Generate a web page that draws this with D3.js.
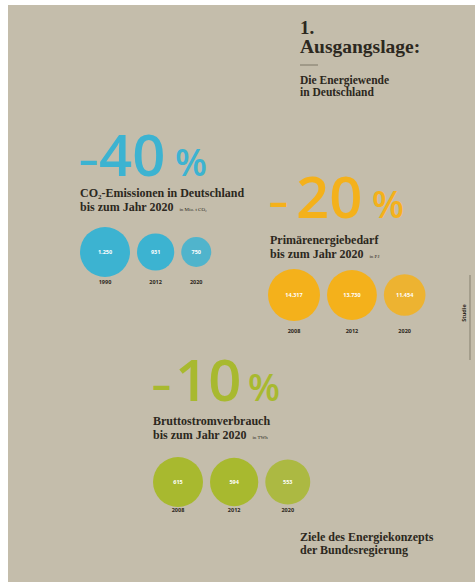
<!DOCTYPE html>
<html>
<head>
<meta charset="UTF-8">
<title>Ausgangslage - Energiewende</title>
<script src="https://d3js.org/d3.v7.min.js"></script>
<style>
    body { margin: 0; background: #ffffff; }
    svg { display: block; }
    .serif { font-family: "Liberation Serif", "DejaVu Serif", serif; font-weight: bold; fill: #2c2820; }
    .pct { font-family: "Open Sans", sans-serif; font-weight: 600; }
    .val { font-family: "Open Sans", sans-serif; font-weight: 700; fill: #ffffff; font-size: 5.5px; }
    .year { font-family: "Open Sans", sans-serif; font-weight: 700; fill: #2c2820; font-size: 5.5px; }
</style>
</head>
<body>
<div id="chart"></div>
<script>
    // Daten
    var co2Years = ["1990", "2012", "2020"];
    var co2Values = [1250, 931, 750];
    var pevYears = ["2008", "2012", "2020"];
    var pevValues = [14317, 13730, 11454];
    var stromYears = ["2008", "2012", "2020"];
    var stromValues = [615, 594, 553];
    var percents = ["40", "20", "10"];
    var titles1 = ["-Emissionen in Deutschland", "Primärenergiebedarf", "Bruttostromverbrauch"];
    var units = ["in Mio. t CO\u2082", "in PJ", "in TWh"];

    var width = 475, height = 582;
    var de = d3.formatLocale({ decimal: ",", thousands: ".", grouping: [3], currency: ["", " €"] });
    var fmt = de.format(",");

    var svg = d3.select("#chart").append("svg")
        .attr("width", width).attr("height", height);

    svg.append("rect")
        .attr("x", 8).attr("y", 5)
        .attr("width", width - 8).attr("height", height - 5)
        .attr("fill", "#c4bdab");

    // Kopf
    svg.append("text").attr("class", "serif").attr("x", 300).attr("y", 34)
        .style("font-size", "19px").text("1.");
    svg.append("text").attr("class", "serif").attr("x", 300).attr("y", 53)
        .style("font-size", "19.5px").text("Ausgangslage:");
    svg.append("line").attr("x1", 300).attr("x2", 318).attr("y1", 65).attr("y2", 65)
        .style("stroke", "#7d7766").style("stroke-width", 1);
    svg.append("text").attr("class", "serif").attr("x", 300).attr("y", 84)
        .style("font-size", "11.5px").text("Die Energiewende");
    svg.append("text").attr("class", "serif").attr("x", 300).attr("y", 96)
        .style("font-size", "11.5px").text("in Deutschland");

    // Fuss
    svg.append("text").attr("class", "serif").attr("x", 300).attr("y", 541)
        .style("font-size", "12px").text("Ziele des Energiekonzepts");
    svg.append("text").attr("class", "serif").attr("x", 300).attr("y", 554)
        .style("font-size", "12px").text("der Bundesregierung");

    // Seitenmarke
    svg.append("line").attr("x1", 470).attr("x2", 470).attr("y1", 275).attr("y2", 360)
        .style("stroke", "#8f8978").style("stroke-width", 1.2);
    svg.append("text").attr("class", "year")
        .attr("transform", "translate(466,313) rotate(-90)")
        .attr("text-anchor", "middle").text("Studie");

    var blocks = [
        { years: co2Years, values: co2Values, color: "#3cb3d1", x: 80, cy: 252, rMax: 25,
          pctY: 176, pctX: [80, 99, 175], tY: 197, yearY: 284 },
        { years: pevYears, values: pevValues, color: "#f4b11b", x: 268, cy: 295, rMax: 26,
          pctY: 218, pctX: [270, 296, 372], tY: 244, yearY: 333 },
        { years: stromYears, values: stromValues, color: "#a8b92f", x: 153, cy: 482, rMax: 25,
          pctY: 401, pctX: [153, 175, 248], tY: 425, yearY: 512 }
    ];

    blocks.forEach(function (b, i) {
        var g = svg.append("g");

        // grosse Prozentzahl
        var p = g.append("text").attr("class", "pct").attr("y", b.pctY).style("fill", b.color);
        p.append("tspan").attr("x", b.pctX[0] - 1).attr("dy", -3).style("font-size", "38px")
            .style("font-weight", 700).text("\u2013");
        p.append("tspan").attr("x", b.pctX[1]).attr("dy", 3).style("font-size", "58px").text(percents[i]);
        p.append("tspan").attr("x", b.pctX[2]).style("font-size", "37px").text("%");

        // Titel
        var t1 = g.append("text").attr("class", "serif").attr("x", b.pctX[0]).attr("y", b.tY)
            .style("font-size", "12px");
        if (i === 0) {
            t1.append("tspan").text("CO");
            t1.append("tspan").attr("dy", 2).style("font-size", "7px").text("2");
            t1.append("tspan").attr("dy", -2).text(titles1[i]);
        } else {
            t1.text(titles1[i]);
        }
        var t2 = g.append("text").attr("class", "serif").attr("x", b.pctX[0]).attr("y", b.tY + 14)
            .style("font-size", "12px");
        t2.append("tspan").text("bis zum Jahr 2020");
        t2.append("tspan").attr("dx", 6).style("font-size", "5px").style("font-weight", "normal")
            .text(units[i]);

        // Kreise
        var r = d3.scaleLinear().domain([0, d3.max(b.values)]).range([0, b.rMax]);
        var gap = 7;
        var cx = [];
        var pos = b.x;
        b.values.forEach(function (v) {
            cx.push(pos + r(v));
            pos += 2 * r(v) + gap;
        });

        g.selectAll(".c").data(b.values).enter().append("circle")
            .attr("cx", function (d, j) { return cx[j]; })
            .attr("cy", b.cy)
            .attr("r", function (d) { return r(d); })
            .style("fill", b.color)
            .style("opacity", function (d, j) { return j === 2 ? 0.85 : 1; });

        g.selectAll(".val").data(b.values).enter().append("text")
            .attr("class", "val")
            .attr("x", function (d, j) { return cx[j]; })
            .attr("y", b.cy + 2)
            .attr("text-anchor", "middle")
            .text(function (d) { return fmt(d); });

        g.selectAll(".year").data(b.years).enter().append("text")
            .attr("class", "year")
            .attr("x", function (d, j) { return cx[j]; })
            .attr("y", b.yearY)
            .attr("text-anchor", "middle")
            .text(function (d) { return d; });
    });
</script>
</body>
</html>
